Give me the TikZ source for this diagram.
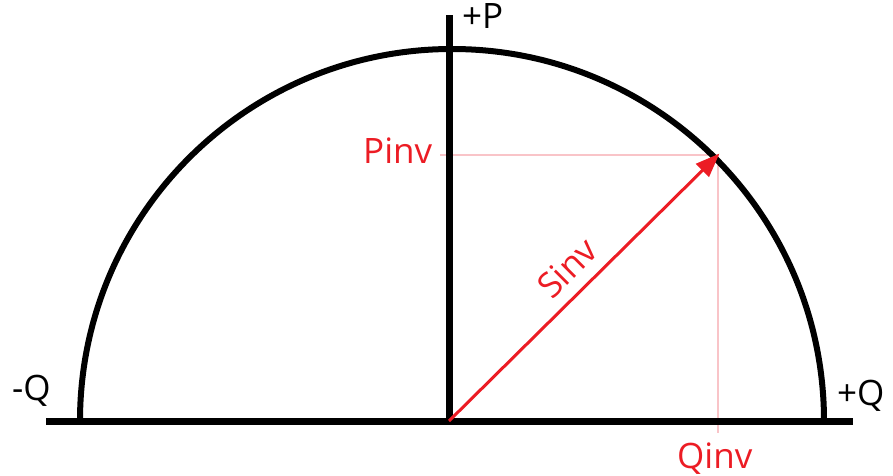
\documentclass[tikz,border=0pt]{standalone}
\usepackage{fontspec}
\setmainfont{Open Sans}
\usetikzlibrary{arrows.meta}
\definecolor{vred}{RGB}{236,28,36}
\definecolor{vpink}{RGB}{249,196,200}
\tikzset{
  axis/.style={line width=7pt},
  circ/.style={line width=6pt},
  guide/.style={vpink, line width=2pt},
  vec/.style={vred, line width=3pt, -{Triangle[length=24pt,width=18pt]}},
  lbl/.style={font=\fontsize{35}{40}\selectfont, inner sep=0pt},
  rlbl/.style={lbl, text=vred}
}
\begin{document}
\begin{tikzpicture}[x=1pt,y=1pt]
\useasboundingbox (0,0) rectangle (893,475);
\coordinate (O) at (449,54);
\coordinate (C) at (452,54);
\coordinate (L) at (80,54);
\coordinate (AL) at (46,54);
\coordinate (AR) at (853,54);
\coordinate (AT) at (449,460);
\coordinate (S) at (718,320);
\coordinate (PL) at (440,320);
\coordinate (QB) at (718,42);
% guides
\draw[guide] (PL) -- (S);
\draw[guide] (S) -- (QB);
% semicircle
\draw[circ] (L) arc[start angle=180, end angle=0, radius=372pt];
% axes
\draw[axis] (AL) -- (AR);
\draw[axis] (O) -- (AT);
% vector
\draw[vec, shorten >=-2pt] (O) -- (S);
% labels
\node[lbl, anchor=base west] (lp) at (462,446) {+P};
\node[lbl, anchor=base west] (lmq) at (12,75) {-Q};
\node[lbl, anchor=base west] (lpq) at (837,70) {+Q};
\node[rlbl, anchor=base west] (lpinv) at (363,312) {Pinv};
\node[rlbl, anchor=base west] (lqinv) at (677,7) {Qinv};
\node[rlbl, rotate=45] (lsinv) at (567,207) {Sinv};
\end{tikzpicture}
\end{document}
